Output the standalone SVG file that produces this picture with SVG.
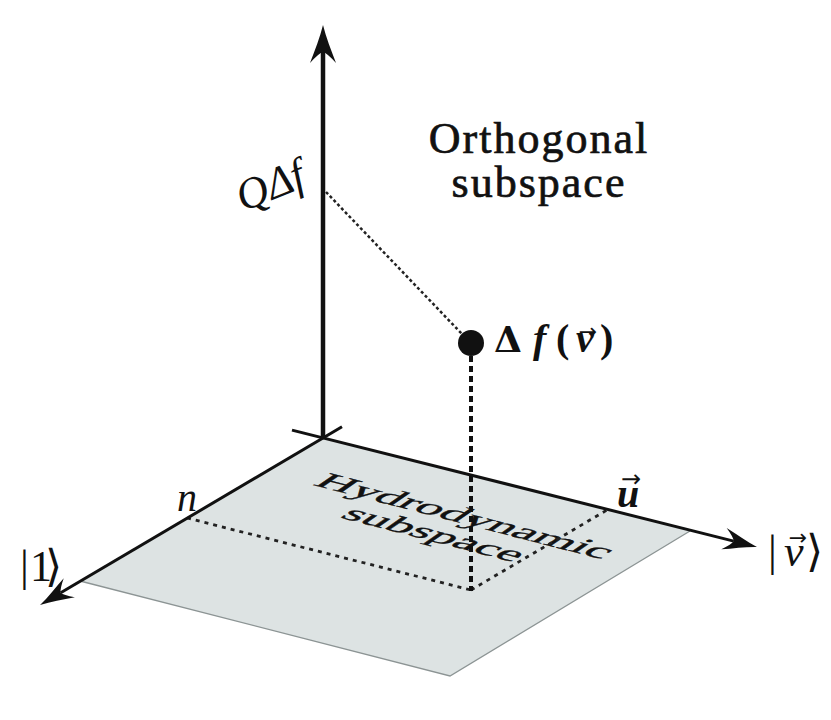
<svg xmlns="http://www.w3.org/2000/svg" width="831" height="720" viewBox="0 0 831 720">
<style>
  .serif { font-family: "Liberation Serif", "Times New Roman", serif; fill: #111; }
  .heavy { stroke: #111; stroke-width: 0.7; }
  .sans { font-family: "DejaVu Sans", sans-serif; fill: #111; }
  .axis { stroke: #111; fill: none; }
  .dots { stroke: #222; fill: none; stroke-width: 2.8; stroke-dasharray: 4 5; }
</style>
<defs>
  <marker id="ahBig" markerUnits="userSpaceOnUse" viewBox="-15 -15 50 30" refX="0" refY="0" markerWidth="50" markerHeight="30" orient="auto" overflow="visible">
    <path d="M27,0 C15,-3 2,-8 -11,-13 Q -1,-4 0,0 Q -1,4 -11,13 C 2,8 15,3 27,0 Z" fill="#111"/>
  </marker>
  <marker id="ahMid" markerUnits="userSpaceOnUse" viewBox="-15 -15 50 30" refX="0" refY="0" markerWidth="50" markerHeight="30" orient="auto" overflow="visible">
    <path d="M24,0 C13,-2.5 2,-7 -10,-11 Q -1,-3.5 0,0 Q -1,3.5 -10,11 C 2,7 13,2.5 24,0 Z" fill="#111"/>
  </marker>
</defs>
<rect width="831" height="720" fill="#ffffff"/>

<g id="plane">
  <polygon points="323,438 690,531 450,676 80,581" fill="#dde3e3"/>
  <polyline points="80,581 450,676 690,531" fill="none" stroke="#8c9494" stroke-width="1.3"/>
  <g transform="matrix(0.968 0.249 -0.52 0.36 457 522)" class="serif heavy" font-size="50" stroke-width="0.8" text-anchor="middle">
    <text x="0" y="0">Hydrodynamic</text>
    <text x="-4" y="52">subspace</text>
  </g>
</g>

<g id="connectors">
  <line class="dots" x1="187" y1="518" x2="471" y2="590"/>
  <line class="dots" x1="471" y1="590" x2="607" y2="510"/>
  <line x1="471" y1="356" x2="471" y2="591" stroke="#111" stroke-width="4" stroke-dasharray="6 4"/>
  <line x1="326" y1="192" x2="462" y2="334" stroke="#222" stroke-width="2.5" stroke-dasharray="3 2.5"/>
  <line class="axis" x1="292" y1="430.1" x2="733.7" y2="541.1" stroke-width="3" marker-end="url(#ahMid)"/>
  <line class="axis" x1="342" y1="426.8" x2="60.7" y2="592.8" stroke-width="3" marker-end="url(#ahMid)"/>
  <line class="axis" x1="323" y1="438" x2="323" y2="52" stroke-width="4.5" marker-end="url(#ahBig)"/>
</g>

<g id="point">
  <circle cx="471" cy="343" r="13" fill="#111"/>
  <text class="serif" y="352" font-size="40" font-weight="bold"><tspan x="494" font-family="DejaVu Serif" font-size="36">Δ</tspan><tspan x="533" font-style="italic">f</tspan><tspan x="556">(</tspan><tspan x="576" font-style="italic">v</tspan><tspan x="600">)</tspan></text>
  <text class="sans" x="588" y="339" font-size="22" text-anchor="middle">→</text>
</g>

<g id="label-orthogonal" class="serif heavy" font-size="44" letter-spacing="2" text-anchor="middle">
  <text x="539" y="153">Orthogonal</text>
  <text x="539" y="197">subspace</text>
</g>

<g id="label-qdf">
  <text class="serif" x="243" y="212" font-size="44" font-style="italic" transform="rotate(-22 243 212)">QΔf</text>
</g>

<g id="label-n">
  <text class="serif" x="177" y="511" font-size="40" font-style="italic">n</text>
</g>

<g id="label-u">
  <text class="serif" x="617" y="507" font-size="40" font-style="italic" font-weight="bold">u</text>
  <text class="sans" x="631" y="487" font-size="24" text-anchor="middle">→</text>
</g>

<g id="label-v">
  <text class="serif" y="566" font-size="44"><tspan x="768">|</tspan><tspan x="784" font-style="italic">v</tspan><tspan x="806" font-family="DejaVu Sans">⟩</tspan></text>
  <text class="sans" x="798" y="545" font-size="22" text-anchor="middle">→</text>
</g>

<g id="label-one">
  <text class="serif" y="581" font-size="44"><tspan x="20">|</tspan><tspan x="30">1</tspan><tspan x="45" font-family="DejaVu Sans">⟩</tspan></text>
</g>
</svg>
